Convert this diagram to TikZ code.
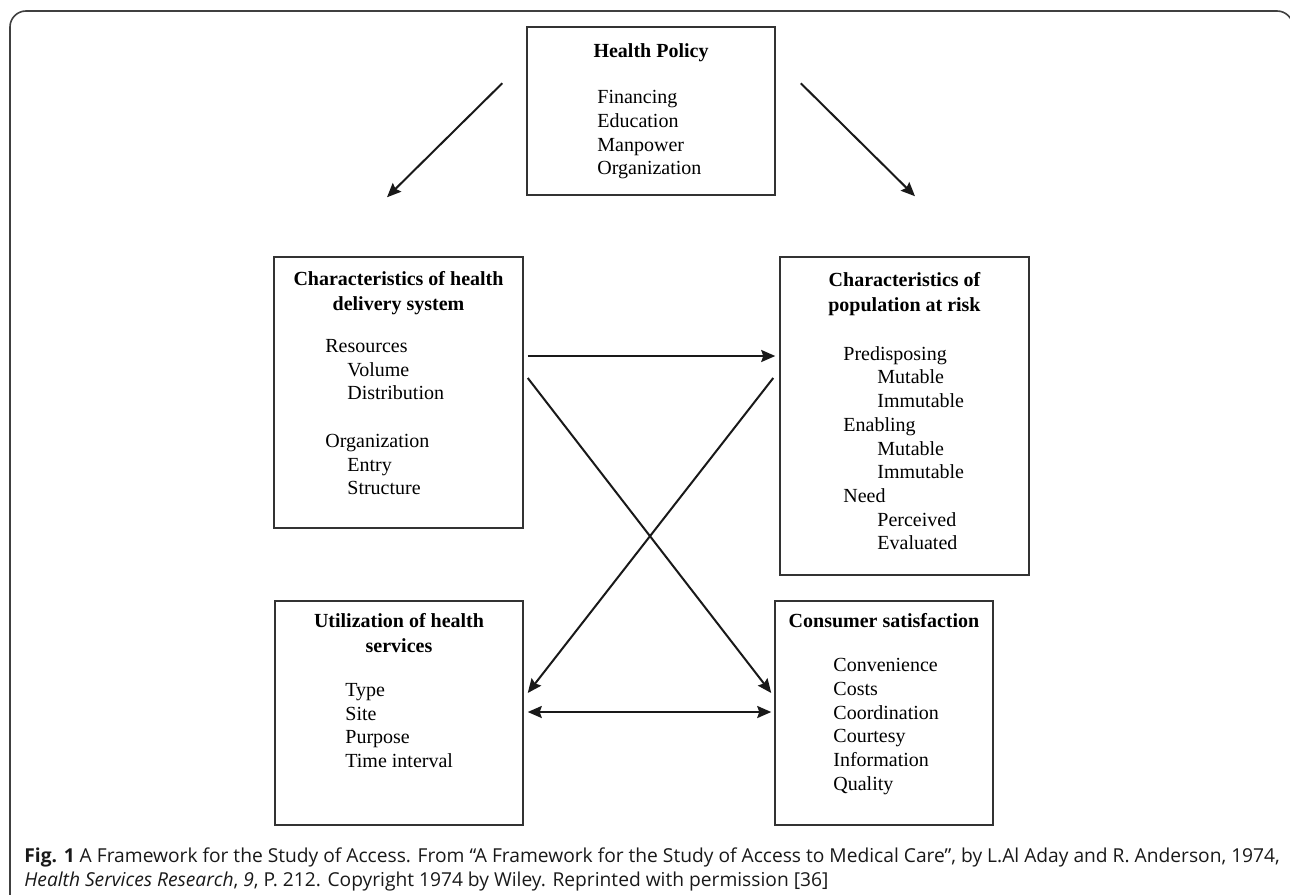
\documentclass[tikz,border=0pt]{standalone}
\usepackage{fontspec}
\setmainfont{Liberation Serif}
\newfontfamily\capfont{Open Sans}
\usetikzlibrary{positioning, arrows.meta, calc}

\tikzset{
  box/.style={draw=black!80, line width=0.75pt, inner sep=0pt},
  boxtitle/.style={anchor=north, align=center, inner sep=0pt,
    font=\bfseries\fontsize{10}{12.5}\selectfont},
  boxlist/.style={anchor=north west, align=left, inner sep=0pt,
    font=\fontsize{10}{11.85}\selectfont},
  arr/.style={-{Stealth[length=7pt,width=6pt,inset=1pt]}, line width=1pt, black!90},
  dblarr/.style={{Stealth[length=7pt,width=6pt,inset=1pt]}-{Stealth[length=7pt,width=6pt,inset=1pt]}, line width=1pt, black!90},
}

\begin{document}
\begin{tikzpicture}[x=0.5pt, y=-0.5pt]
  \useasboundingbox (0,0) rectangle (1290,894);

  % outer frame
  \draw[line width=0.8pt, black!75, rounded corners=8] (10,900) -- (10,11) -- (1293,11) -- (1293,40);

  % boxes
  \node[box, minimum width=124pt, minimum height=84pt] (policy) at (651,111) {};
  \node[box, minimum width=124.5pt, minimum height=135.5pt] (delivery) at (398.5,392.5) {};
  \node[box, minimum width=124.5pt, minimum height=159pt] (population) at (904.5,416) {};
  \node[box, minimum width=124pt, minimum height=112pt] (utilization) at (399,713) {};
  \node[box, minimum width=109pt, minimum height=112pt] (satisfaction) at (884,713) {};

  % box texts
  \node[boxtitle] (policytitle) at (651,43) {Health Policy};
  \node[boxlist] (policylist) at (597,90) {Financing\\Education\\Manpower\\Organization};

  \node[boxtitle] (deliverytitle) at (398.5,271) {Characteristics of health\\delivery system};
  \node[boxlist] (deliverylist) at (325,339) {Resources\\\hspace*{11pt}Volume\\\hspace*{11pt}Distribution\\[11.85pt]
    Organization\\\hspace*{11pt}Entry\\\hspace*{11pt}Structure};

  \node[boxtitle] (populationtitle) at (904.5,272) {Characteristics of\\population at risk};
  \node[boxlist] (populationlist) at (843,346) {Predisposing\\\hspace*{17pt}Mutable\\\hspace*{17pt}Immutable\\
    Enabling\\\hspace*{17pt}Mutable\\\hspace*{17pt}Immutable\\
    Need\\\hspace*{17pt}Perceived\\\hspace*{17pt}Evaluated};

  \node[boxtitle] (utilizationtitle) at (399,613) {Utilization of health\\services};
  \node[boxlist] (utilizationlist) at (345,683) {Type\\Site\\Purpose\\Time interval};

  \node[boxtitle] (satisfactiontitle) at (884,613) {Consumer satisfaction};
  \node[boxlist] (satisfactionlist) at (833,658) {Convenience\\Costs\\Coordination\\Courtesy\\Information\\Quality};

  % arrows
  \draw[arr] ($(policy.north west)+(-24,57)$) -- ($(delivery.north)+(-11.5,-59)$);
  \draw[arr] ($(policy.north east)+(25,57)$) -- ($(population.north)+(10.5,-60)$);
  \draw[arr] ($(delivery.east)+(4,-36.5)$) -- ($(population.west)+(-4,-60)$);
  \draw[arr] ($(delivery.east)+(4,-14.5)$) -- ($(satisfaction.west)+(-3,-20)$);
  \draw[arr] ($(population.west)+(-6,-38)$) -- ($(utilization.east)+(4,-20)$);
  \draw[dblarr] ($(utilization.east)+(4,-1)$) -- ($(satisfaction.west)+(-3,-1)$);

  % caption
  \node[anchor=north west, inner sep=0pt, align=left, text=black!90,
        font=\capfont\fontsize{9.6}{12}\selectfont] (caption) at (24,847)
    {\textbf{Fig. 1} A Framework for the Study of Access. From “A Framework for the Study of Access to Medical Care”, by L.Al Aday and R. Anderson, 1974,\\
     \textit{Health Services Research}, \textit{9}, P. 212. Copyright 1974 by Wiley. Reprinted with permission [36]};
\end{tikzpicture}
\end{document}
